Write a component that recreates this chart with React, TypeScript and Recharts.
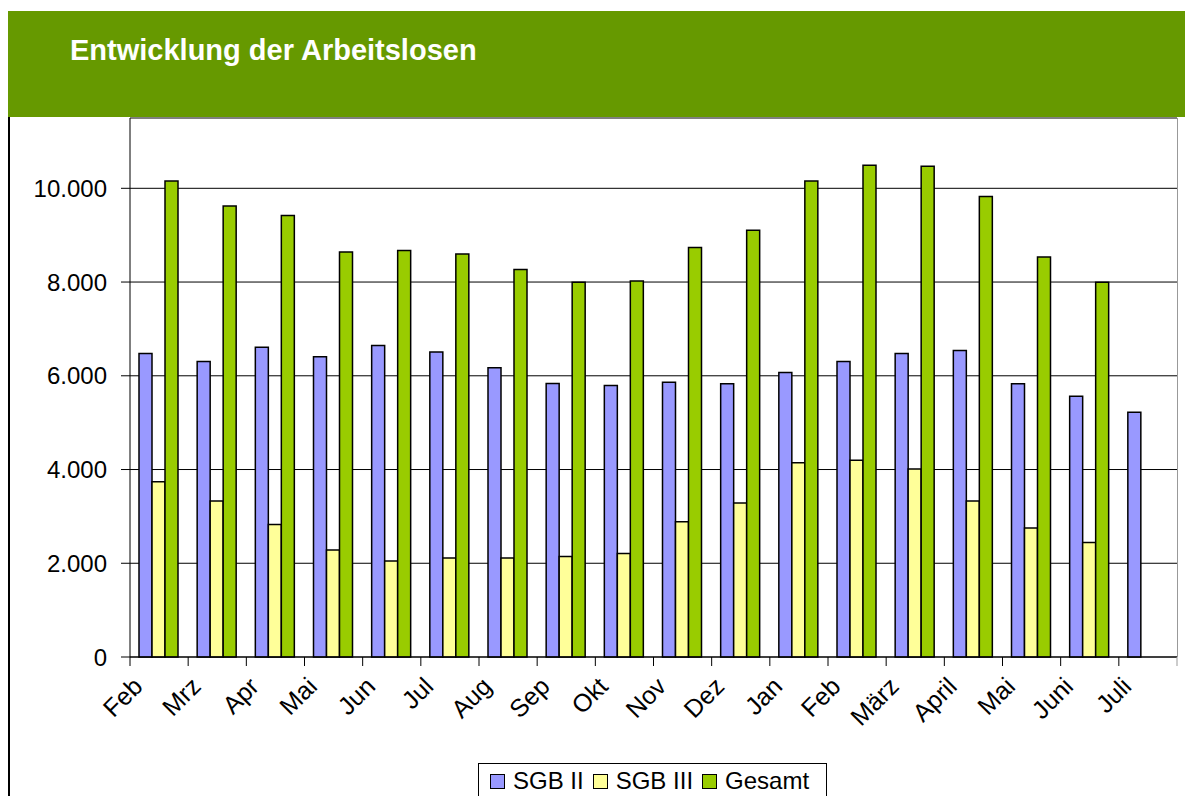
import { Bar, BarChart, CartesianGrid, XAxis, YAxis } from "recharts";

const months = ["Feb", "Mrz", "Apr", "Mai", "Jun", "Jul", "Aug", "Sep", "Okt", "Nov", "Dez", "Jan", "Feb", "März", "April", "Mai", "Juni", "Juli"];
const sgb2 = [6475, 6305, 6610, 6404, 6646, 6510, 6169, 5835, 5793, 5864, 5828, 6070, 6305, 6475, 6539, 5828, 5565, 5224];
const sgb3 = [3738, 3326, 2829, 2281, 2047, 2111, 2110, 2146, 2210, 2885, 3284, 4143, 4200, 4009, 3326, 2750, 2445, null];
const gesamt = [10156, 9623, 9418, 8642, 8671, 8600, 8266, 7996, 8024, 8735, 9104, 10156, 10490, 10470, 9823, 8536, 7996, null];
const yTicks = [0, 2000, 4000, 6000, 8000, 10000];

const series = [
    { key: "sgb2", name: "SGB II", color: "#9999FF" },
    { key: "sgb3", name: "SGB III", color: "#FFFF99" },
    { key: "gesamt", name: "Gesamt", color: "#99CC00" },
];

const data = months.map((m, i) => ({ name: m, sgb2: sgb2[i], sgb3: sgb3[i], gesamt: gesamt[i] }));

const font = "Arial, 'Liberation Sans', sans-serif";

const fmt = (v: number) => String(v).replace(/\B(?=(\d{3})+(?!\d))/g, ".");

function MonthTick(props: any) {
    const { x, y, payload, index } = props;
    const half = payload && payload.offset ? payload.offset : 1047 / 18 / 2;
    const last = index === months.length - 1;
    return (
        <g>
            <line x1={x - half} x2={x - half} y1={y} y2={y + 9} stroke="#000" />
            {last && <line x1={x + half} x2={x + half} y1={y} y2={y + 9} stroke="#999" />}
            <text
                transform={`translate(${x - 15},${y + 31}) rotate(-45)`}
                textAnchor="end"
                fontSize={25}
                fontFamily={font}
                fill="#000"
            >
                {payload.value}
            </text>
        </g>
    );
}

export default function App() {
    return (
        <div style={{ position: "absolute", left: 0, top: 0, width: 1185, height: 796, overflow: "hidden", background: "#fff" }}>
            <BarChart
                width={1185}
                height={796}
                data={data}
                margin={{ top: 118, right: 8, left: 0, bottom: 0 }}
                barCategoryGap={9}
                barGap={0}
            >
                <CartesianGrid vertical={false} stroke="#000" />
                <XAxis
                    dataKey="name"
                    height={139}
                    axisLine={{ stroke: "#000" }}
                    tickLine={false}
                    tickSize={0}
                    tickMargin={0}
                    interval={0}
                    tick={<MonthTick />}
                />
                <YAxis
                    width={130}
                    domain={[0, 11500]}
                    ticks={yTicks}
                    tickFormatter={fmt}
                    axisLine={{ stroke: "#000" }}
                    tickLine={{ stroke: "#000" }}
                    tickSize={9}
                    tickMargin={14}
                    tick={{ fill: "#000", fontSize: 24, fontFamily: font }}
                />
                {series.map((s) => (
                    <Bar
                        key={s.key}
                        dataKey={s.key}
                        name={s.name}
                        fill={s.color}
                        stroke="#000"
                        strokeWidth={1.5}
                        isAnimationActive={false}
                    />
                ))}
            </BarChart>

            <div style={{ position: "absolute", left: 8, top: 11, width: 1177, height: 106, background: "#669900" }}>
                <div
                    style={{
                        position: "absolute",
                        left: 62,
                        top: 25,
                        fontFamily: font,
                        fontWeight: "bold",
                        fontSize: 29,
                        lineHeight: "29px",
                        color: "#fff",
                        whiteSpace: "nowrap",
                    }}
                >
                    Entwicklung der Arbeitslosen
                </div>
            </div>

            <div style={{ position: "absolute", left: 8, top: 117, width: 2, height: 679, background: "#000" }} />
            <div style={{ position: "absolute", left: 1177, top: 118, width: 1, height: 539, background: "#999" }} />

            <div
                style={{
                    position: "absolute",
                    left: 478,
                    top: 763,
                    width: 349,
                    height: 40,
                    border: "1px solid #000",
                    boxSizing: "border-box",
                    display: "flex",
                    alignItems: "flex-start",
                    paddingLeft: 11,
                    paddingTop: 5,
                    fontFamily: font,
                    fontSize: 24,
                    lineHeight: "24px",
                    color: "#000",
                }}
            >
                {series.map((s) => (
                    <div key={s.key} style={{ display: "flex", alignItems: "center", marginRight: 9 }}>
                        <div
                            style={{
                                width: 13,
                                height: 13,
                                background: s.color,
                                border: "1px solid #000",
                                marginRight: 8,
                            }}
                        />
                        <span>{s.name}</span>
                    </div>
                ))}
            </div>
        </div>
    );
}
